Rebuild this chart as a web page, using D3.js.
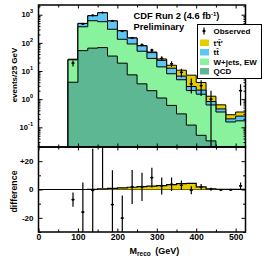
<!DOCTYPE html>
<meta charset="utf-8">
<style>
body { margin: 0; background: #fff; }
text { font-family: "Liberation Sans", Arial, sans-serif; font-weight: bold; fill: #000; }
</style>
<svg width="264" height="268"></svg>
<script src="https://d3js.org/d3.v7.min.js"></script>
<script>
// bins of 25 GeV, lower edges
var binLow = [75, 100, 125, 150, 175, 200, 225, 250, 275, 300, 325, 350, 375, 400, 425, 450, 475, 500];
var binWidth = 25;

// stacked expectations (events / 25 GeV)
var qcd    = [4, 53, 65, 68, 34, 19, 7.3, 3.5, 2.0, 1.1, 0.6, 0.3, 0.12, 0.052, 0.033, 0, 0, 0];
var wjets  = [21, 320, 545, 497, 270, 115, 84, 47, 26, 12.9, 7.4, 4.6, 1.9, 1.45, 0.59, 0.35, 0.155, 0.17];
var ttbar  = [1, 117, 310, 605, 296, 135, 57, 28, 17, 10, 4.6, 1.7, 0.8, 0.6, 0.2, 0.1, 0.045, 0.08];
var tprime = [0, 0, 0.1, 0.4, 0.8, 1.2, 1.6, 2.0, 2.4, 2.8, 3.4, 4.1, 4.3, 1.8, 0.45, 0.18, 0.08, 0.1];

// data
var observed = [19, 470, 940, 1200, 600, 260, 150, 85, 55, 28, 18, 9, 3.5, 3, 1, 0, 0, 2];
var obsErr   = [4.4, 22, 31, 35, 24, 16, 12, 9, 7.4, 5.3, 4.2, 3, 1.9, 1.7, 1, 0, 0, 1.4];

// data minus background
var diff    = [-7.2, -16, -0.7, 35, -10.7, -20.2, 1.8, 1.8, 8.4, 2.5, 3.7, 3, -0.5, 1.8, 0.2, -0.3, -0.2, 2.5];
var diffErr = [5, 21, 29.5, 34, 24.3, 16, 12, 10, 7, 6, 4.7, 3.3, 2.8, 2, 1, 0.5, 0.4, 2.5];

var xMajor = [0, 100, 200, 300, 400, 500];
var xMinor = [50, 150, 250, 350, 450];
var decades = [-1, 0, 1, 2, 3];
var dMajor = [-20, 0, 20];
var dMinor = [-30, -10, 10, 30];

var colors = { qcd: "#5db793", wjets: "#88f29c", ttbar: "#5cc6f4", tprime: "#e6cf00" };

var svg = d3.select("svg");
var L = 38.5, R = 245.5, T = 5, M = 147, B = 232;

var x = d3.scaleLinear().domain([0, 525]).range([L, R]);
var y = d3.scaleLog().domain([0.02, 2213]).range([M, T]);
var yd = d3.scaleLinear().domain([-30, 30]).range([B, M]);

var defs = svg.append("defs");
defs.append("clipPath").attr("id", "clipTop").append("rect")
    .attr("x", L).attr("y", T).attr("width", R - L).attr("height", M - T);
defs.append("clipPath").attr("id", "clipBot").append("rect")
    .attr("x", L).attr("y", M).attr("width", R - L).attr("height", B - M);

// table for the stack, with one extra point closing the last bin
var rows = binLow.map(function(b, i) {
  return { lo: b, qcd: qcd[i], wjets: wjets[i], ttbar: ttbar[i], tprime: tprime[i] };
});
var last = Object.assign({}, rows[rows.length - 1]);
last.lo = binLow[binLow.length - 1] + binWidth;
rows.push(last);

var layers = d3.stack().keys(["qcd", "wjets", "ttbar", "tprime"])(rows);

var area = d3.area().curve(d3.curveStepAfter)
    .x(function(d) { return x(d.data.lo); })
    .y0(M)
    .y1(function(d) { return y(Math.max(d[1], 1e-4)); });

var gTop = svg.append("g").attr("clip-path", "url(#clipTop)");
gTop.selectAll("path.layer")
    .data(layers.slice().reverse())
    .enter().append("path")
    .attr("class", "layer")
    .attr("d", area)
    .attr("fill", function(d) { return colors[d.key]; })
    .attr("stroke", "#000")
    .attr("stroke-width", 1);

// observed points
var centers = binLow.map(function(b) { return b + binWidth / 2; });
binLow.forEach(function(b, i) {
  if (observed[i] <= 0) return;
  var cx = x(centers[i]);
  gTop.append("line")
      .attr("x1", cx).attr("x2", cx)
      .attr("y1", y(observed[i] + obsErr[i]))
      .attr("y2", y(Math.max(observed[i] - obsErr[i], 1e-4)))
      .attr("stroke", "#000").attr("stroke-width", 1.2);
  gTop.append("line")
      .attr("x1", cx - 1.6).attr("x2", cx + 1.6)
      .attr("y1", y(observed[i])).attr("y2", y(observed[i]))
      .attr("stroke", "#000").attr("stroke-width", 1.2);
  gTop.append("circle").attr("cx", cx).attr("cy", y(observed[i])).attr("r", 1.1).attr("fill", "#000");
});

// difference panel
var gBot = svg.append("g").attr("clip-path", "url(#clipBot)");
gBot.append("line")
    .attr("x1", L).attr("x2", R).attr("y1", yd(0)).attr("y2", yd(0))
    .attr("stroke", "#000").attr("stroke-width", 1);

var tpArea = d3.area().curve(d3.curveStepAfter)
    .x(function(d) { return x(d.lo); })
    .y0(yd(0))
    .y1(function(d) { return yd(d.tprime); });
var tpLine = d3.line().curve(d3.curveStepAfter)
    .x(function(d) { return x(d.lo); })
    .y(function(d) { return yd(d.tprime); });

gBot.append("path").attr("d", tpArea(rows)).attr("fill", colors.tprime);
gBot.append("path").attr("d", tpLine(rows)).attr("fill", "none").attr("stroke", "#000").attr("stroke-width", 1.2);

binLow.forEach(function(b, i) {
  var cx = x(centers[i]);
  gBot.append("line")
      .attr("x1", cx).attr("x2", cx)
      .attr("y1", yd(diff[i] + diffErr[i])).attr("y2", yd(diff[i] - diffErr[i]))
      .attr("stroke", "#000").attr("stroke-width", 1.2);
  gBot.append("line")
      .attr("x1", cx - 1.6).attr("x2", cx + 1.6)
      .attr("y1", yd(diff[i])).attr("y2", yd(diff[i]))
      .attr("stroke", "#000").attr("stroke-width", 1.2);
  gBot.append("circle").attr("cx", cx).attr("cy", yd(diff[i])).attr("r", 1.1).attr("fill", "#000");
});

// axes (inward ticks)
function noDomain(g) { g.select(".domain").remove(); }

function xTicks(yPos, dir, withLabels) {
  var maj = (dir === "up" ? d3.axisBottom(x) : d3.axisTop(x)).tickValues(xMajor).tickSize(-3.5);
  var mn = (dir === "up" ? d3.axisBottom(x) : d3.axisTop(x)).tickValues(xMinor).tickSize(-2.5).tickFormat("");
  if (!withLabels) maj.tickFormat("");
  else maj.tickPadding(2.2);
  svg.append("g").attr("transform", "translate(0," + yPos + ")").call(maj).call(noDomain)
      .attr("font-size", 8.6);
  svg.append("g").attr("transform", "translate(0," + yPos + ")").call(mn).call(noDomain);
}
xTicks(B, "up", true);
xTicks(M, "down", false);
xTicks(M, "up", false);
xTicks(T, "down", false);

var logMajor = decades.map(function(e) { return Math.pow(10, e); });
var logMinor = [];
[-2, -1, 0, 1, 2, 3].forEach(function(e) {
  [2, 3, 4, 5, 6, 7, 8, 9].forEach(function(m) {
    var v = m * Math.pow(10, e);
    if (v >= 0.02 && v <= 2213) logMinor.push(v);
  });
});

[[L, d3.axisLeft], [R, d3.axisRight]].forEach(function(s) {
  svg.append("g").attr("transform", "translate(" + s[0] + ",0)")
      .call(s[1](y).tickValues(logMajor).tickSize(-4).tickFormat("")).call(noDomain);
  svg.append("g").attr("transform", "translate(" + s[0] + ",0)")
      .call(s[1](y).tickValues(logMinor).tickSize(-2).tickFormat("")).call(noDomain);
  svg.append("g").attr("transform", "translate(" + s[0] + ",0)")
      .call(s[1](yd).tickValues(dMajor).tickSize(-4).tickFormat("")).call(noDomain);
  svg.append("g").attr("transform", "translate(" + s[0] + ",0)")
      .call(s[1](yd).tickValues(dMinor).tickSize(-2.5).tickFormat("")).call(noDomain);
});

// log labels
var ylab = svg.append("g").attr("font-size", 7.6);
decades.forEach(function(e) {
  var t = ylab.append("text")
      .attr("x", 33).attr("y", y(Math.pow(10, e)))
      .attr("dy", "0.35em").attr("text-anchor", "end");
  t.append("tspan").text("10");
  t.append("tspan").attr("font-size", 5.6).attr("dy", "-0.7em").text(e);
});

// difference labels
svg.append("g").attr("font-size", 8).selectAll("text")
    .data(dMajor).enter().append("text")
    .attr("x", 33.5).attr("y", function(d) { return yd(d); })
    .attr("dy", "0.35em").attr("text-anchor", "end")
    .text(function(d) { return d > 0 ? "+" + d : String(d); });

// frames
svg.append("rect").attr("x", L).attr("y", T).attr("width", R - L).attr("height", M - T)
    .attr("fill", "none").attr("stroke", "#000").attr("stroke-width", 1.5);
svg.append("rect").attr("x", L).attr("y", M).attr("width", R - L).attr("height", B - M)
    .attr("fill", "none").attr("stroke", "#000").attr("stroke-width", 1.5);

// axis titles
svg.append("text").attr("transform", "translate(16.5,75) rotate(-90)")
    .attr("text-anchor", "middle").attr("font-size", 8).text("events/25 GeV");
svg.append("text").attr("transform", "translate(16.5,191.5) rotate(-90)")
    .attr("text-anchor", "middle").attr("font-size", 8.8).text("difference");
var xt = svg.append("text").attr("x", 129.5).attr("y", 253.5).attr("font-size", 9);
xt.append("tspan").text("M");
xt.append("tspan").attr("font-size", 6.5).attr("dy", 2.5).text("reco");
xt.append("tspan").attr("dy", -2.5).attr("dx", 4.5).text("(GeV)");

// title
var tt = svg.append("text").attr("x", 133.5).attr("y", 19).attr("font-size", 9.3);
tt.append("tspan").text("CDF Run 2 (4.6 fb");
tt.append("tspan").attr("font-size", 6).attr("dy", -3.5).text("-1");
tt.append("tspan").attr("dy", 3.5).text(")");
svg.append("text").attr("x", 133.5).attr("y", 29.5).attr("font-size", 9.3).text("Preliminary");

// legend
var lg = svg.append("g");
lg.append("rect").attr("x", 197.5).attr("y", 24.5).attr("width", 64).attr("height", 54)
    .attr("fill", "#fff").attr("stroke", "#000").attr("stroke-width", 1);
lg.append("line").attr("x1", 204).attr("x2", 204).attr("y1", 27.5).attr("y2", 34.5)
    .attr("stroke", "#000").attr("stroke-width", 1.2);
lg.append("circle").attr("cx", 204).attr("cy", 31).attr("r", 1.2).attr("fill", "#000");
lg.append("line").attr("x1", 202.4).attr("x2", 205.6).attr("y1", 31).attr("y2", 31)
    .attr("stroke", "#000").attr("stroke-width", 1.2);
var entries = [
  { key: "tprime", label: "t\u2032t\u0304\u2032", y: 39.5 },
  { key: "ttbar", label: "tt\u0304", y: 49 },
  { key: "wjets", label: "W+jets, EW", y: 58.5 },
  { key: "qcd", label: "QCD", y: 68 }
];
lg.selectAll("rect.sw").data(entries).enter().append("rect")
    .attr("class", "sw")
    .attr("x", 200).attr("y", function(d) { return d.y; })
    .attr("width", 9).attr("height", 6.5)
    .attr("fill", function(d) { return colors[d.key]; });
lg.append("text").attr("x", 213.5).attr("y", 34).attr("font-size", 8).text("Observed");
lg.selectAll("text.lab").data(entries).enter().append("text")
    .attr("class", "lab")
    .attr("x", 213.5).attr("y", function(d) { return d.y + 6.2; })
    .attr("font-size", 8).text(function(d) { return d.label; });
</script>
